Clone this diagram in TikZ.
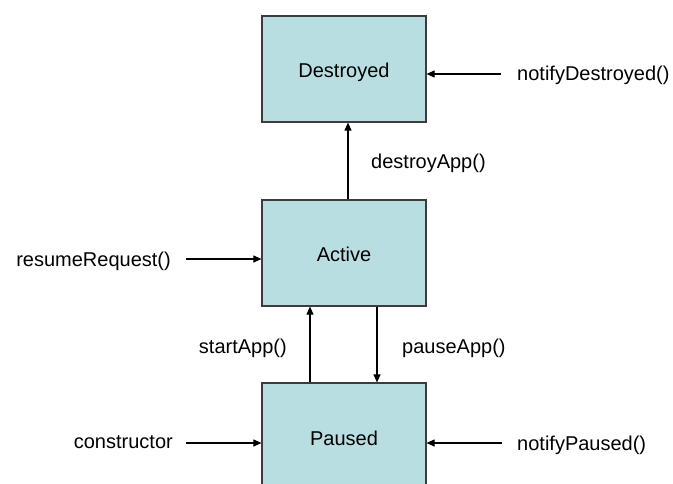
\documentclass[tikz,border=0pt]{standalone}
\usepackage{fontspec}
\setmainfont{Liberation Sans}
\usetikzlibrary{arrows.meta}
\definecolor{statefill}{RGB}{185,222,226}
\definecolor{stateedge}{RGB}{60,60,60}
\tikzset{
  x=1pt, y=1pt,
  statebox/.style={draw=stateedge, fill=statefill, line width=1.2pt,
    minimum width=164pt, minimum height=106pt, inner sep=0pt},
  txt/.style={inner sep=0pt, font=\fontsize{20}{24}\selectfont},
  arr/.style={line width=1.1pt, -{Triangle[length=8pt,width=7pt]}},
}
\begin{document}
\begin{tikzpicture}
  \useasboundingbox (0,0) rectangle (673,483);
  \clip (0,0) rectangle (673,483);

  % lifecycle states
  \node[statebox] (des) at (344,414) {};
  \node[statebox] (act) at (344,230) {};
  \node[statebox] (pau) at (344,47)  {};
  \node[txt, anchor=base] (desT) at (344,405) {Destroyed};
  \node[txt, anchor=base] (actT) at (344,222) {Active};
  \node[txt, anchor=base] (pauT) at (344,38)  {Paused};

  % transitions between states
  \coordinate (dA) at (348,0);
  \draw[arr] (act.north -| dA) -- (des.south -| dA);
  \node[txt, anchor=base west] (dLbl) at (371,314) {destroyApp()};

  \coordinate (sA) at (310,0);
  \draw[arr] (pau.north -| sA) -- (act.south -| sA);
  \node[txt, anchor=base east] (sLbl) at (287,130) {startApp()};

  \coordinate (pA) at (377,0);
  \draw[arr] (act.south -| pA) -- (pau.north -| pA);
  \node[txt, anchor=base west] (pLbl) at (402,130) {pauseApp()};

  % external triggers
  \coordinate (ndS) at (501,409);
  \draw[arr] (ndS) -- (ndS -| des.east);
  \node[txt, anchor=base west] (ndLbl) at (517,402) {notifyDestroyed()};

  \coordinate (rrS) at (186,224);
  \draw[arr] (rrS) -- (rrS -| act.west);
  \node[txt, anchor=base east] (rrLbl) at (171,217) {resumeRequest()};

  \coordinate (cS) at (186,40);
  \draw[arr] (cS) -- (cS -| pau.west);
  \node[txt, anchor=base east] (cLbl) at (173,35) {constructor};

  \coordinate (npS) at (502,40);
  \draw[arr] (npS) -- (npS -| pau.east);
  \node[txt, anchor=base west] (npLbl) at (517,33) {notifyPaused()};
\end{tikzpicture}
\end{document}
